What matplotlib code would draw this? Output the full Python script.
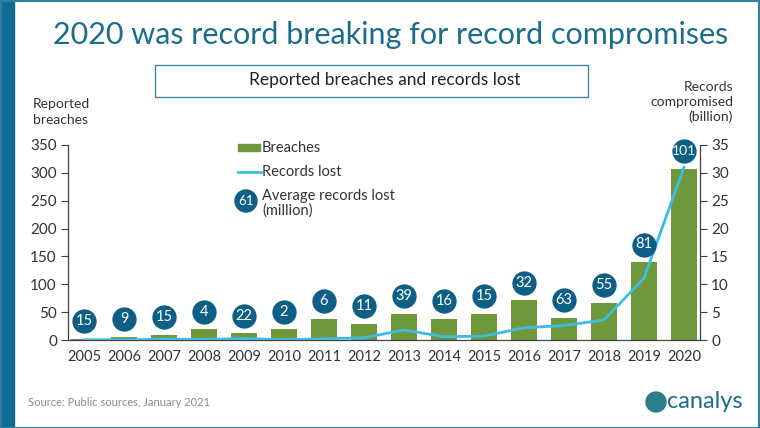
import matplotlib
matplotlib.use("Agg")
import matplotlib.pyplot as plt
from matplotlib.patches import Rectangle, Ellipse
from matplotlib.transforms import offset_copy
import numpy as np

years = ["2005", "2006", "2007", "2008", "2009", "2010", "2011", "2012",
         "2013", "2014", "2015", "2016", "2017", "2018", "2019", "2020"]
breaches = [2, 6, 9, 19, 12, 19, 38, 29, 47, 38, 47, 71, 40, 67, 140, 307]
records_lost = [0.05, 0.05, 0.15, 0.1, 0.25, 0.05, 0.2, 0.4, 1.8, 0.6, 0.7, 2.2, 2.6, 3.6, 11.1, 31.0]
avg_records = [15, 9, 15, 4, 22, 2, 6, 11, 39, 16, 15, 32, 63, 55, 81, 101]

plt.rcParams['font.family'] = ['Lato', 'DejaVu Sans']

GREEN = "#6f983a"
LINE = "#3dbde6"
CIRC = "#0e5f86"
TEAL = "#1b6d8c"
TXT = "#333333"

fig = plt.figure(figsize=(7.6, 4.28), dpi=100)
fig.patch.set_facecolor("white")

# frame
fig.add_artist(Rectangle((0, 0), 14/760, 1, transform=fig.transFigure, color="#0f6a94", zorder=0))
fig.add_artist(Rectangle((0.5/760, 0.5/428), 758/760, 426.5/428, transform=fig.transFigure,
                         fill=False, edgecolor="#2f7f9e", lw=1.5, zorder=0))

ax = fig.add_axes([68/760, 1 - 340/428, 632/760, 195/428])
x = np.arange(len(years))
ax.bar(x, breaches, width=0.64, color=GREEN, zorder=2)
ax.set_xlim(-0.4, len(years) - 0.6)
ax.set_ylim(0, 350)
ax.set_yticks(range(0, 351, 50))
ax.set_xticks(x)
ax.set_xticklabels(years)
for s in ["top", "right"]:
    ax.spines[s].set_visible(False)
for s in ["left", "bottom"]:
    ax.spines[s].set_color("#404040")
    ax.spines[s].set_linewidth(0.9)
ax.tick_params(axis="y", direction="out", length=5, color="#404040", labelsize=11, labelcolor=TXT, pad=3)
ax.tick_params(axis="x", length=0, labelsize=10.5, labelcolor=TXT, pad=7)

ax2 = ax.twinx()
ax2.plot(x, records_lost, color=LINE, lw=2, zorder=3)
ax2.set_ylim(0, 35)
ax2.set_yticks(range(0, 36, 5))
for s in ["top", "left", "bottom"]:
    ax2.spines[s].set_visible(False)
ax2.spines["right"].set_color("#404040")
ax2.spines["right"].set_linewidth(0.9)
ax2.tick_params(axis="y", direction="out", length=5, color="#404040", labelsize=11, labelcolor=TXT, pad=3)

# circles with average records lost, placed above each bar (drawn on top axes)
circ_tr = offset_copy(ax.transData, fig=fig, x=0, y=12.6, units="points")
ax2.scatter(x, breaches, s=17.5**2, color=CIRC, transform=circ_tr, zorder=5, clip_on=False,
            linewidths=0)
for xi, b, a in zip(x, breaches, avg_records):
    ax2.text(xi, b, str(a), transform=circ_tr, ha="center", va="center", color="white",
             fontsize=10.5 if a < 100 else 10, zorder=6, clip_on=False)

# titles
fig.text(391/760, 1 - 35/428, "2020 was record breaking for record compromises",
         ha="center", va="center", fontsize=22, color=TEAL)
fig.add_artist(Rectangle((155/760, 1 - 97/428), 433/760, 32/428, transform=fig.transFigure,
                         fill=False, edgecolor="#3a8aa8", lw=1.0))
fig.text(385/760, 1 - 80/428, "Reported breaches and records lost",
         ha="center", va="center", fontsize=12.5, color="#222222")
fig.text(33/760, 1 - 112/428, "Reported\nbreaches", ha="left", va="center",
         fontsize=10, color=TXT, linespacing=1.35)
fig.text(733/760, 1 - 102/428, "Records\ncompromised\n(billion)", ha="right", va="center",
         fontsize=10, color=TXT, linespacing=1.3)

# legend
fig.add_artist(Rectangle((238/760, 1 - 151/428), 22/760, 7/428, transform=fig.transFigure,
                         color=GREEN))
fig.text(262/760, 1 - 148/428, "Breaches", ha="left", va="center", fontsize=10.5, color=TXT)
fig.add_artist(plt.Line2D([238/760, 261/760], [1 - 172/428, 1 - 172/428],
                          transform=fig.transFigure, color=LINE, lw=2))
fig.text(262/760, 1 - 172/428, "Records lost", ha="left", va="center", fontsize=10.5, color=TXT)
fig.add_artist(Ellipse((246/760, 1 - 201/428), 22/760, 22/428, transform=fig.transFigure,
                       color=CIRC))
fig.text(246/760, 1 - 201/428, "61", ha="center", va="center", fontsize=9.5, color="white")
fig.text(262/760, 1 - 203/428, "Average records lost\n(million)", ha="left", va="center",
         fontsize=10.5, color=TXT, linespacing=1.05)

# footer
fig.text(28/760, 1 - 403/428, "Source: Public sources, January 2021", ha="left", va="center",
         fontsize=8, color="#8a8a8a")
fig.text(667/760, 1 - 401/428, "canalys", ha="left", va="center", fontsize=17, color="#1f6b8c")
fig.add_artist(Ellipse((656/760, 1 - 402/428), 20/760, 20/428, transform=fig.transFigure,
                       color="#2d7d8a"))

fig.savefig("out.png", dpi=100)
